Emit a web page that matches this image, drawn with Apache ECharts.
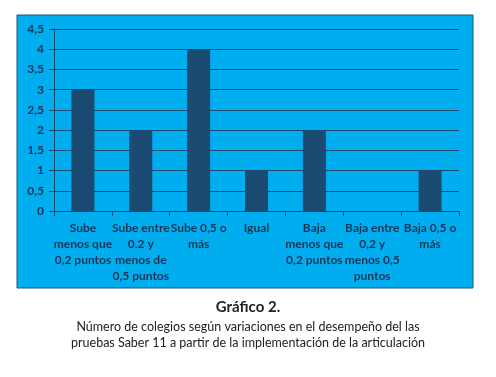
<!DOCTYPE html>
<html><head><meta charset="utf-8">
<script src="https://cdn.jsdelivr.net/npm/echarts@6/dist/echarts.min.js"></script>
<style>html,body{margin:0;padding:0;background:#fff}#c{width:496px;height:377px}</style>
</head><body><div id="c"></div>
<script>
const categories = [
  "Sube\nmenos que\n0,2 puntos",
  "Sube entre\n0.2 y\nmenos de\n0,5 puntos",
  "Sube 0,5 o\nmás",
  "Igual",
  "Baja\nmenos que\n0,2 puntos",
  "Baja entre\n0,2 y\nmenos 0,5\npuntos",
  "Baja 0,5 o\nmás"
];
const values = [3, 2, 4, 1, 2, 0, 1];
const titleText = "Gráfico 2.";
const subtitleText = "Número de colegios según variaciones en el desempeño del las\npruebas Saber 11 a partir de la implementación de la articulación";

const chart = echarts.init(document.getElementById('c'));
chart.setOption({
  animation: false,
  backgroundColor: '#ffffff',
  graphic: [{
    type: 'rect', z: -10,
    shape: {x: 17, y: 15, width: 456, height: 273},
    style: {fill: '#00aeef', stroke: '#1d5878', lineWidth: 1}
  }],
  title: {
    text: titleText,
    subtext: subtitleText,
    left: 'center', top: 295, itemGap: 4,
    textStyle: {fontFamily: 'Lato', fontSize: 15, fontWeight: 'bold', color: '#222'},
    subtextStyle: {fontFamily: 'Lato', fontSize: 12.5, color: '#222', lineHeight: 16, align: 'center'}
  },
  grid: {left: 54, top: 29, width: 405, height: 182, containLabel: false},
  xAxis: {
    type: 'category', data: categories,
    axisLine: {lineStyle: {color: '#1d4a6a', width: 1}},
    axisTick: {show: true, alignWithLabel: false, length: 5, lineStyle: {color: '#1d4a6a'}},
    axisLabel: {interval: 0, margin: 9, color: '#13355a', fontFamily: 'Lato', fontWeight: 'bold', fontSize: 12, lineHeight: 16, align: 'center'}
  },
  yAxis: {
    type: 'value', min: 0, max: 4.5, interval: 0.5,
    axisLine: {show: true, lineStyle: {color: '#1d4a6a'}},
    axisTick: {show: true, length: 5, lineStyle: {color: '#1d4a6a'}},
    splitLine: {lineStyle: {color: '#1d4a6a', width: 1}},
    axisLabel: {color: '#13355a', fontFamily: 'Lato', fontWeight: 'bold', fontSize: 12, margin: 10,
      formatter: v => String(v).replace('.', ',')}
  },
  series: [{
    type: 'bar', data: values, barWidth: 23,
    itemStyle: {color: '#1b4a72'}
  }]
});
</script></body></html>
